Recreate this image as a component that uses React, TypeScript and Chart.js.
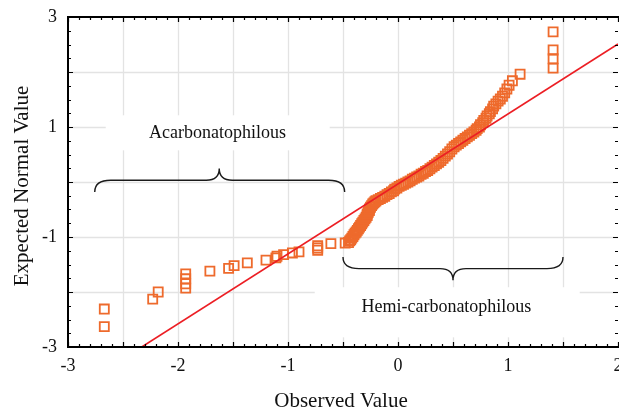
import React, { useEffect, useRef } from 'react';
import { Chart, registerables } from 'chart.js';

Chart.register(...registerables);

const observed = [
  -2.67, -2.67, -2.23, -2.18, -1.93, -1.93, -1.93, -1.93, -1.71, -1.54, -1.49, -1.37,
  -1.2, -1.11, -1.1, -1.04, -0.96, -0.9, -0.73, -0.73, -0.73, -0.61, -0.48,
  -0.45, -0.44, -0.43, -0.42, -0.41, -0.4, -0.39, -0.38, -0.37, -0.36, -0.35, -0.34,
  -0.33, -0.32, -0.31, -0.3, -0.29, -0.28, -0.28, -0.27, -0.26, -0.26, -0.25, -0.24,
  -0.23, -0.22, -0.21, -0.2, -0.18, -0.16, -0.14, -0.12, -0.1, -0.08, -0.06, -0.04,
  -0.03, -0.01, 0.01, 0.03, 0.05, 0.07, 0.09, 0.11, 0.13, 0.15, 0.17, 0.19,
  0.21, 0.23, 0.25, 0.27, 0.29, 0.31, 0.33, 0.35, 0.37, 0.39, 0.41, 0.43,
  0.45, 0.47, 0.49, 0.51, 0.53, 0.55, 0.57, 0.59, 0.61, 0.63, 0.65, 0.67,
  0.69, 0.71, 0.72, 0.74, 0.75, 0.77, 0.78, 0.8, 0.81, 0.83, 0.84, 0.86,
  0.87, 0.89, 0.91, 0.93, 0.95, 0.97, 0.99, 1.01, 1.04, 1.11,
  1.41, 1.41, 1.41, 1.41,
];
const expected = [
  -2.63, -2.31, -2.13, -2.0, -1.93, -1.85, -1.76, -1.67, -1.62, -1.57, -1.52, -1.47,
  -1.42, -1.38, -1.35, -1.32, -1.29, -1.27, -1.24, -1.2, -1.16, -1.12, -1.11,
  -1.1, -1.07, -1.05, -1.02, -0.99, -0.96, -0.93, -0.91, -0.88, -0.85, -0.82, -0.79,
  -0.76, -0.73, -0.7, -0.67, -0.64, -0.61, -0.58, -0.55, -0.52, -0.49, -0.46, -0.43,
  -0.4, -0.38, -0.36, -0.34, -0.32, -0.3, -0.28, -0.26, -0.23, -0.21, -0.18, -0.16,
  -0.13, -0.11, -0.08, -0.06, -0.04, -0.02, 0.0, 0.02, 0.05, 0.07, 0.09, 0.11,
  0.14, 0.16, 0.19, 0.21, 0.24, 0.27, 0.3, 0.33, 0.36, 0.39, 0.43, 0.47,
  0.51, 0.55, 0.6, 0.64, 0.67, 0.7, 0.73, 0.76, 0.79, 0.82, 0.85, 0.88,
  0.91, 0.94, 0.97, 1.0, 1.04, 1.08, 1.12, 1.16, 1.2, 1.24, 1.28, 1.33,
  1.38, 1.42, 1.47, 1.51, 1.56, 1.62, 1.69, 1.76, 1.84, 1.96,
  2.07, 2.24, 2.4, 2.73,
];

// Reference (normal) line endpoints
const lineX = [-2.33, 2.0];
const lineY = [-3.0, 2.51];

// Axis ticks
const xTickValues = [-3, -2, -1, 0, 1, 2];
const xTickLabels = ['-3', '-2', '-1', '0', '1', '2'];
const yTickValues = [3, 1, -1, -3];
const yTickLabels = ['3', '1', '-1', '-3'];
const xGridValues = [-2.5, -2, -1.5, -1, -0.5, 0, 0.5, 1, 1.5];
const yGridValues = [-2, -1, 0, 1, 2];

// Annotations
const groupNames = ['Acarbonatophilous', 'Hemi-carbonatophilous'];
const groupLabelX = [-1.64, 0.44];
const groupLabelY = [0.885, -2.28];
const braceStart = [-2.757, -0.5];
const braceEnd = [-0.485, 1.5];
const braceCusp = [-1.625, 0.5];
const braceEndY = [-0.182, -1.364];
const braceMidY = [0.031, -1.575];
const braceCuspY = [0.244, -1.787];

const SERIF = '"Liberation Serif", "Times New Roman", serif';

const framePlugin = {
  id: 'framePlugin',
  beforeDatasetsDraw(chart: any) {
    const { ctx, chartArea: a, scales } = chart;
    const xs = scales.x;
    const ys = scales.y;
    ctx.save();
    ctx.strokeStyle = '#e3e3e3';
    ctx.lineWidth = 1.3;
    xGridValues.forEach((v) => {
      const px = Math.round(xs.getPixelForValue(v)) + 0.5;
      ctx.beginPath();
      ctx.moveTo(px, a.top);
      ctx.lineTo(px, a.bottom);
      ctx.stroke();
    });
    yGridValues.forEach((v) => {
      const py = Math.round(ys.getPixelForValue(v)) + 0.5;
      ctx.beginPath();
      ctx.moveTo(a.left, py);
      ctx.lineTo(a.right, py);
      ctx.stroke();
    });
    // white masks behind the group labels
    ctx.fillStyle = '#ffffff';
    const masks = [
      [-2.657, -0.621, 1.213, 0.576],
      [-0.757, 1.652, -1.913, -2.824],
    ];
    masks.forEach(([x0, x1, y0, y1]) => {
      const l = xs.getPixelForValue(x0);
      const r = xs.getPixelForValue(x1);
      const t = ys.getPixelForValue(y0);
      const b = ys.getPixelForValue(y1);
      ctx.fillRect(l, t, r - l, b - t);
    });
    // labels
    ctx.fillStyle = '#111';
    ctx.font = `18px ${SERIF}`;
    ctx.textAlign = 'center';
    ctx.textBaseline = 'middle';
    groupNames.forEach((n, i) => {
      ctx.fillText(n, xs.getPixelForValue(groupLabelX[i]), ys.getPixelForValue(groupLabelY[i]));
    });
    // braces
    ctx.strokeStyle = '#1a1a1a';
    ctx.lineWidth = 1.4;
    groupNames.forEach((_, i) => {
      const x0 = xs.getPixelForValue(braceStart[i]);
      const x1 = xs.getPixelForValue(braceEnd[i]);
      const xc = xs.getPixelForValue(braceCusp[i]);
      const ye = ys.getPixelForValue(braceEndY[i]);
      const ym = ys.getPixelForValue(braceMidY[i]);
      const yc = ys.getPixelForValue(braceCuspY[i]);
      const r = 16;
      const r2 = 13;
      ctx.beginPath();
      ctx.moveTo(x0, ye);
      ctx.quadraticCurveTo(x0, ym, x0 + r, ym);
      ctx.lineTo(xc - r2, ym);
      ctx.quadraticCurveTo(xc, ym, xc, yc);
      ctx.quadraticCurveTo(xc, ym, xc + r2, ym);
      ctx.lineTo(x1 - r, ym);
      ctx.quadraticCurveTo(x1, ym, x1, ye);
      ctx.stroke();
    });
    ctx.restore();
  },
  afterDraw(chart: any) {
    const { ctx, chartArea: a, scales } = chart;
    const xs = scales.x;
    const ys = scales.y;
    ctx.save();
    ctx.strokeStyle = '#000';
    // ticks
    ctx.lineWidth = 1.2;
    for (let i = 0; i <= 50; i++) {
      const v = -3 + i * 0.1;
      const px = Math.round(xs.getPixelForValue(v)) + 0.5;
      const len = i % 5 === 0 ? 5 : 3;
      ctx.beginPath();
      ctx.moveTo(px, a.bottom);
      ctx.lineTo(px, a.bottom - len);
      ctx.moveTo(px, a.top);
      ctx.lineTo(px, a.top + len);
      ctx.stroke();
    }
    for (let i = 0; i <= 24; i++) {
      const v = -3 + i * 0.25;
      const py = Math.round(ys.getPixelForValue(v)) + 0.5;
      const len = i % 4 === 0 ? 5 : 3;
      ctx.beginPath();
      ctx.moveTo(a.left, py);
      ctx.lineTo(a.left + len, py);
      ctx.moveTo(a.right, py);
      ctx.lineTo(a.right - len, py);
      ctx.stroke();
    }
    // frame
    ctx.lineWidth = 2;
    ctx.beginPath();
    ctx.moveTo(a.right + 2, a.top);
    ctx.lineTo(a.left, a.top);
    ctx.lineTo(a.left, a.bottom);
    ctx.lineTo(a.right + 2, a.bottom);
    ctx.stroke();
    // tick labels
    ctx.fillStyle = '#111';
    ctx.font = `18px ${SERIF}`;
    ctx.textAlign = 'center';
    ctx.textBaseline = 'middle';
    xTickValues.forEach((v, i) => {
      ctx.fillText(xTickLabels[i], xs.getPixelForValue(v), a.bottom + 19);
    });
    ctx.textAlign = 'right';
    yTickValues.forEach((v, i) => {
      ctx.fillText(yTickLabels[i], a.left - 11, ys.getPixelForValue(v));
    });
    // axis titles
    ctx.font = `21px ${SERIF}`;
    ctx.textAlign = 'center';
    ctx.fillText('Observed Value', (a.left + a.right) / 2 - 2, a.bottom + 54);
    ctx.translate(22, 186);
    ctx.rotate(-Math.PI / 2);
    ctx.fillText('Expected Normal Value', 0, 0);
    ctx.restore();
  },
};

export default function App() {
  const ref = useRef<HTMLCanvasElement | null>(null);
  useEffect(() => {
    document.body.style.margin = '0';
    const canvas = ref.current;
    if (!canvas) return;
    const chart = new Chart(canvas, {
      type: 'scatter',
      data: {
        datasets: [
          {
            label: 'Normal line',
            data: lineX.map((x, i) => ({ x, y: lineY[i] })),
            showLine: true,
            borderColor: 'rgb(236,30,36)',
            borderWidth: 1.6,
            pointRadius: 0,
            order: 0,
          },
          {
            label: 'Observed',
            data: observed.map((x, i) => ({ x, y: expected[i] })),
            pointStyle: 'rect',
            pointRadius: 6.4,
            pointBorderWidth: 1.8,
            borderColor: 'rgb(238,106,44)',
            backgroundColor: 'rgba(0,0,0,0)',
            order: 1,
          },
        ],
      },
      options: {
        responsive: false,
        animation: false,
        layout: { autoPadding: false, padding: { left: 68, right: 1, top: 17, bottom: 63 } },
        plugins: { legend: { display: false }, tooltip: { enabled: false } },
        scales: {
          x: { type: 'linear', min: -3, max: 2, display: false },
          y: { type: 'linear', min: -3, max: 3, display: false },
        },
      },
      plugins: [framePlugin],
    });
    return () => chart.destroy();
  }, []);
  return (
    <div style={{ position: 'absolute', left: 0, top: 0, width: 619, height: 410, background: '#fff' }}>
      <canvas ref={ref} width={619} height={410} />
    </div>
  );
}
